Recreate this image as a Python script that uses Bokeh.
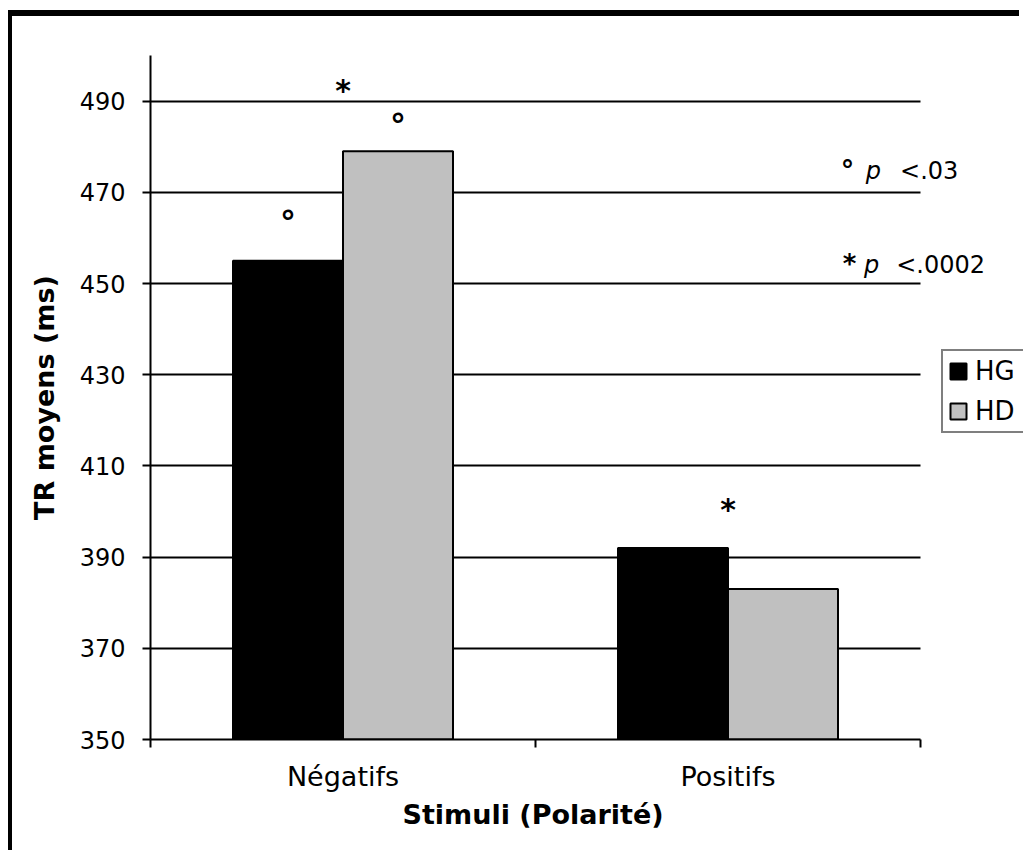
from bokeh.plotting import figure
from bokeh.models import Range1d, FixedTicker, Legend, LegendItem, Label, Title
from bokeh.core.properties import value
from bokeh.embed import file_html
from bokeh.resources import INLINE

# Mean reaction times (ms) by stimulus polarity and hemisphere
categories = ["Négatifs", "Positifs"]
series_names = ["HG", "HD"]
hg_values = [455, 392]
hd_values = [479, 383]
y_ticks = [350, 370, 390, 410, 430, 450, 470, 490]

FONT = "DejaVu Sans"
BAR_W = 1 / 3.5          # two bars per category, 150 % gap
Y0, Y1 = 350, 500
N = len(categories)
X_MAX = N * 873 / 770    # free space right of the category axis for the key

p = figure(width=1011, height=840, x_range=Range1d(0, X_MAX),
           y_range=Range1d(Y0, Y1), output_backend="svg", toolbar_location=None,
           min_border_left=138, min_border_right=0, min_border_top=39,
           min_border_bottom=117)
p.outline_line_color = None
p.background_fill_color = "white"
p.border_fill_color = "white"
# outer frame: heavy top rule and left rule
p.margin = (10, 0, 0, 8)
p.styles = {"border-top": "6px solid black", "border-left": "4px solid black"}

centers = [i + 0.5 for i in range(N)]
hg_x = [c - BAR_W / 2 for c in centers]
hd_x = [c + BAR_W / 2 for c in centers]

r_hg = p.vbar(x=hg_x, top=hg_values, bottom=Y0, width=BAR_W,
              fill_color="black", line_color="black", line_width=2)
r_hd = p.vbar(x=hd_x, top=hd_values, bottom=Y0, width=BAR_W,
              fill_color="#c0c0c0", line_color="black", line_width=2)

# horizontal gridlines, limited to the category area
p.xgrid.visible = False
p.ygrid.ticker = FixedTicker(ticks=y_ticks)
p.ygrid.grid_line_color = "black"
p.ygrid.grid_line_width = 2
p.ygrid.cross_bounds = (0, N)
p.ygrid.level = "underlay"

# y axis
p.yaxis.ticker = FixedTicker(ticks=y_ticks)
p.yaxis.axis_line_width = 2
p.yaxis.major_tick_line_width = 2
p.yaxis.major_tick_out = 8
p.yaxis.major_tick_in = 0
p.yaxis.minor_tick_line_color = None
p.yaxis.major_label_text_font = FONT
p.yaxis.major_label_text_font_size = "24px"
p.yaxis.major_label_text_color = "black"
p.yaxis.major_label_standoff = 17
p.yaxis.axis_label = "TR moyens (ms)"
p.yaxis.axis_label_text_font = FONT
p.yaxis.axis_label_text_font_style = "bold"
p.yaxis.axis_label_text_font_size = "27px"
p.yaxis.axis_label_text_color = "black"
p.yaxis.axis_label_standoff = 17

# x axis: labels at category centres, tick marks on category boundaries
p.xaxis.bounds = (0, N)
p.xaxis.ticker = FixedTicker(ticks=centers, minor_ticks=list(range(N + 1)))
p.xaxis.major_label_overrides = {c: name for c, name in zip(centers, categories)}
p.xaxis.axis_line_width = 2
p.xaxis.major_tick_line_color = None
p.xaxis.major_tick_out = 8
p.xaxis.major_tick_in = 0
p.xaxis.minor_tick_line_color = "black"
p.xaxis.minor_tick_line_width = 2
p.xaxis.minor_tick_out = 8
p.xaxis.minor_tick_in = 0
p.xaxis.major_label_text_font = FONT
p.xaxis.major_label_text_font_size = "27px"
p.xaxis.major_label_text_color = "black"
p.xaxis.major_label_standoff = 13

# x axis title, centred under the category axis rather than the whole frame
p.add_layout(Title(text="Stimuli (Polarité)", align="left", offset=252,
                   text_font=FONT, text_font_size="27px",
                   text_font_style="bold", text_color="black", standoff=4),
             "below")

# significance marks above the bars
star_x = [centers[0], centers[1]]
star_y = [max(hg_values[0], hd_values[0]) + 14.6, max(hg_values[1], hd_values[1]) + 9.8]
p.text(x=star_x, y=star_y, text=["*", "*"], text_align="center",
       text_baseline="middle", y_offset=6, text_font=value(FONT),
       text_font_size="30px", text_font_style="bold", text_color="black")
ring_x = [hg_x[0], hd_x[0]]
ring_y = [hg_values[0] + 9.9, hd_values[0] + 7.0]
p.text(x=ring_x, y=ring_y, text=["°", "°"], text_align="center",
       text_baseline="middle", y_offset=7, text_font=value(FONT),
       text_font_size="32px", text_font_style="bold", text_color="black")

# key to the significance marks
def note(x, y, txt, style="normal", size="24px"):
    p.add_layout(Label(x=x, y=y, text=txt, text_font=FONT, text_font_size=size,
                       text_font_style=style, text_baseline="middle",
                       text_align="left", text_color="black"))

note(1.793, 475.0, "°", style="bold", size="27px")
note(1.858, 474.6, "p", style="italic")
note(1.947, 474.6, "<.03")
note(1.798, 454.2, "*", style="bold", size="26px")
note(1.853, 454.0, "p", style="italic")
note(1.937, 454.0, "<.0002")

legend = Legend(items=[LegendItem(label=series_names[0], renderers=[r_hg]),
                       LegendItem(label=series_names[1], renderers=[r_hd])],
                location=(791, 306), border_line_color="black",
                border_line_width=2, label_text_font=FONT,
                label_text_font_size="26px", label_text_color="black",
                glyph_width=20, glyph_height=20, label_height=30,
                label_width=50, spacing=10, padding=5, margin=0,
                label_standoff=7, background_fill_color="white")
p.add_layout(legend, "center")

open("out.html", "w").write(file_html(p, INLINE))
